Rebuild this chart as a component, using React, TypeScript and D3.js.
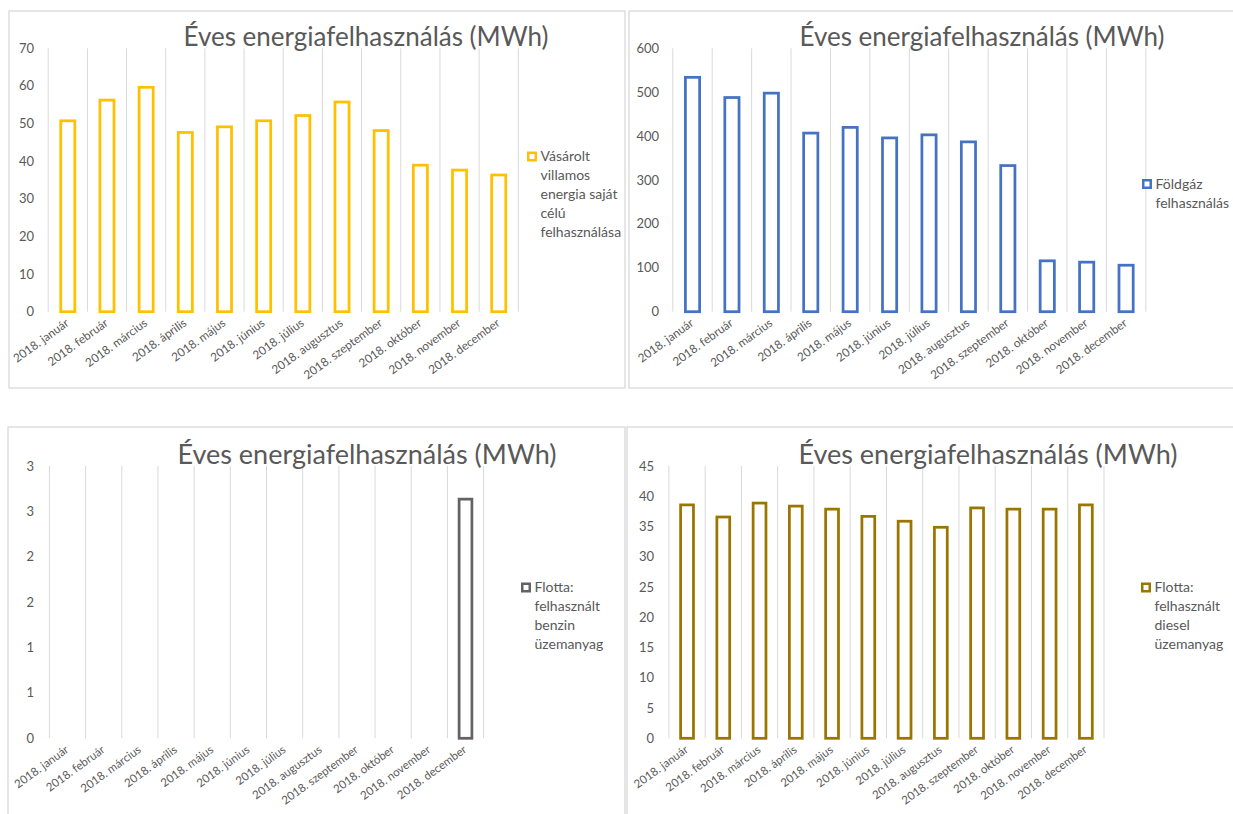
import React from "react";
import * as d3 from "d3";

const months = [
  "2018. január", "2018. február", "2018. március", "2018. április",
  "2018. május", "2018. június", "2018. július", "2018. augusztus",
  "2018. szeptember", "2018. október", "2018. november", "2018. december",
];

const title = "Éves energiafelhasználás (MWh)";

const villamos = [51.1, 56.6, 60.0, 48.0, 49.5, 51.1, 52.5, 56.1, 48.5, 39.3, 38.0, 36.7];
const foldgaz = [537, 491, 501, 410, 423, 399, 406, 390, 336, 119, 116, 109];
const benzin: (number | null)[] = [null, null, null, null, null, null, null, null, null, null, null, 2.65];
const diesel = [38.8, 36.8, 39.1, 38.6, 38.1, 36.9, 36.1, 35.1, 38.3, 38.1, 38.1, 38.8];

const villamosTicks = [0, 10, 20, 30, 40, 50, 60, 70];
const foldgazTicks = [0, 100, 200, 300, 400, 500, 600];
const benzinTicks = [0, 0.5, 1, 1.5, 2, 2.5, 3];
const benzinTickLabels = ["0", "1", "1", "2", "2", "3", "3"];
const dieselTicks = [0, 5, 10, 15, 20, 25, 30, 35, 40, 45];

const villamosLegend = ["Vásárolt", "villamos", "energia saját", "célú", "felhasználása"];
const foldgazLegend = ["Földgáz", "felhasználás"];
const benzinLegend = ["Flotta:", "felhasznált", "benzin", "üzemanyag"];
const dieselLegend = ["Flotta:", "felhasznált", "diesel", "üzemanyag"];

const FONT = "Lato, 'Open Sans', sans-serif";
const TEXT = "#595959";
const GRID = "#D9D9D9";

type PanelProps = {
  box: { x: number; y: number; w: number; h: number };
  plot: { x0: number; x1: number; yTop: number; yBottom: number };
  values: (number | null)[];
  ticks: number[];
  tickLabels?: string[];
  color: string;
  titleX: number;
  titleY: number;
  titleSize: number;
  legend: string[];
  legendX: number;
  legendY: number;
  labelSize: number;
  tickRight: number;
};

function Panel(p: PanelProps) {
  const x = d3.scaleBand<string>().domain(months).range([p.plot.x0, p.plot.x1]).paddingInner(0).paddingOuter(0);
  const maxV = p.ticks[p.ticks.length - 1];
  const y = d3.scaleLinear().domain([0, maxV]).range([p.plot.yBottom, p.plot.yTop]);
  const bw = x.bandwidth();
  const barOuter = bw * 0.43;
  const sw = 2.75;
  const boundaries = d3.range(months.length + 1).map((i) => p.plot.x0 + i * bw);
  return (
    <g>
      <rect x={p.box.x} y={p.box.y} width={p.box.w} height={p.box.h} fill="#fff" stroke={GRID} strokeWidth={1.3} />
      {boundaries.map((bx, i) => (
        <line key={"g" + i} x1={bx} x2={bx} y1={p.plot.yTop} y2={p.plot.yBottom} stroke={GRID} strokeWidth={1} />
      ))}
      <text x={p.titleX} y={p.titleY} textAnchor="middle" fontFamily={FONT} fontSize={p.titleSize} fill={TEXT}>
        {title}
      </text>
      {p.ticks.map((t, i) => (
        <text key={"t" + i} x={p.tickRight} y={y(t)} dy="0.35em" textAnchor="end" fontFamily={FONT} fontSize={13} fill={TEXT}>
          {p.tickLabels ? p.tickLabels[i] : String(t)}
        </text>
      ))}
      {months.map((m, i) => {
        const v = p.values[i];
        if (v === null || v === undefined) return null;
        const cx = (x(m) as number) + bw / 2;
        return (
          <rect
            key={"b" + i}
            x={cx - barOuter / 2 + sw / 2}
            y={y(v) + sw / 2}
            width={barOuter - sw}
            height={y(0) - y(v) - sw / 2}
            fill="#fff"
            stroke={p.color}
            strokeWidth={sw}
          />
        );
      })}
      {months.map((m, i) => {
        const cx = (x(m) as number) + bw / 2;
        return (
          <text
            key={"l" + i}
            transform={`translate(${cx + 2},${p.plot.yBottom + 13}) rotate(-36)`}
            textAnchor="end"
            fontFamily={FONT}
            fontSize={p.labelSize}
            fill={TEXT}
          >
            {m}
          </text>
        );
      })}
      <rect x={p.legendX + 1.25} y={p.legendY - 5 + 1.25} width={7.5} height={7.5} fill="#fff" stroke={p.color} strokeWidth={2.5} />
      {p.legend.map((line, i) => (
        <text key={"lg" + i} x={p.legendX + 13.5} y={p.legendY + i * 19} dy="0.35em" fontFamily={FONT} fontSize={14} fill={TEXT}>
          {line}
        </text>
      ))}
    </g>
  );
}

export default function App() {
  return (
    <svg width={1233} height={814} style={{ position: "absolute", left: 0, top: 0, background: "#fff" }}>
      <rect x={0} y={0} width={1233} height={814} fill="#fff" />
      <Panel
        box={{ x: 9, y: 11, w: 616, h: 377 }}
        plot={{ x0: 48.2, x1: 518.3, yTop: 48.3, yBottom: 311.7 }}
        values={villamos}
        ticks={villamosTicks}
        color="#FFC000"
        titleX={366}
        titleY={45.7}
        titleSize={26}
        legend={villamosLegend}
        legendX={527}
        legendY={156.5}
        labelSize={11.8}
        tickRight={34}
      />
      <Panel
        box={{ x: 629, y: 11, w: 640, h: 377 }}
        plot={{ x0: 672.8, x1: 1145.8, yTop: 48.3, yBottom: 311.7 }}
        values={foldgaz}
        ticks={foldgazTicks}
        color="#4472C4"
        titleX={982}
        titleY={45.7}
        titleSize={26}
        legend={foldgazLegend}
        legendX={1142}
        legendY={184}
        labelSize={11.8}
        tickRight={659}
      />
      <Panel
        box={{ x: 8, y: 427, w: 617, h: 420 }}
        plot={{ x0: 49.4, x1: 483.6, yTop: 466, yBottom: 738.3 }}
        values={benzin}
        ticks={benzinTicks}
        tickLabels={benzinTickLabels}
        color="#636363"
        titleX={367}
        titleY={463.7}
        titleSize={27}
        legend={benzinLegend}
        legendX={521}
        legendY={587.5}
        labelSize={11.5}
        tickRight={34}
      />
      <Panel
        box={{ x: 627, y: 427, w: 640, h: 420 }}
        plot={{ x0: 668.9, x1: 1104, yTop: 466, yBottom: 738.3 }}
        values={diesel}
        ticks={dieselTicks}
        color="#9A7600"
        titleX={988}
        titleY={463.7}
        titleSize={27}
        legend={dieselLegend}
        legendX={1141}
        legendY={587.5}
        labelSize={11.5}
        tickRight={654}
      />
    </svg>
  );
}
